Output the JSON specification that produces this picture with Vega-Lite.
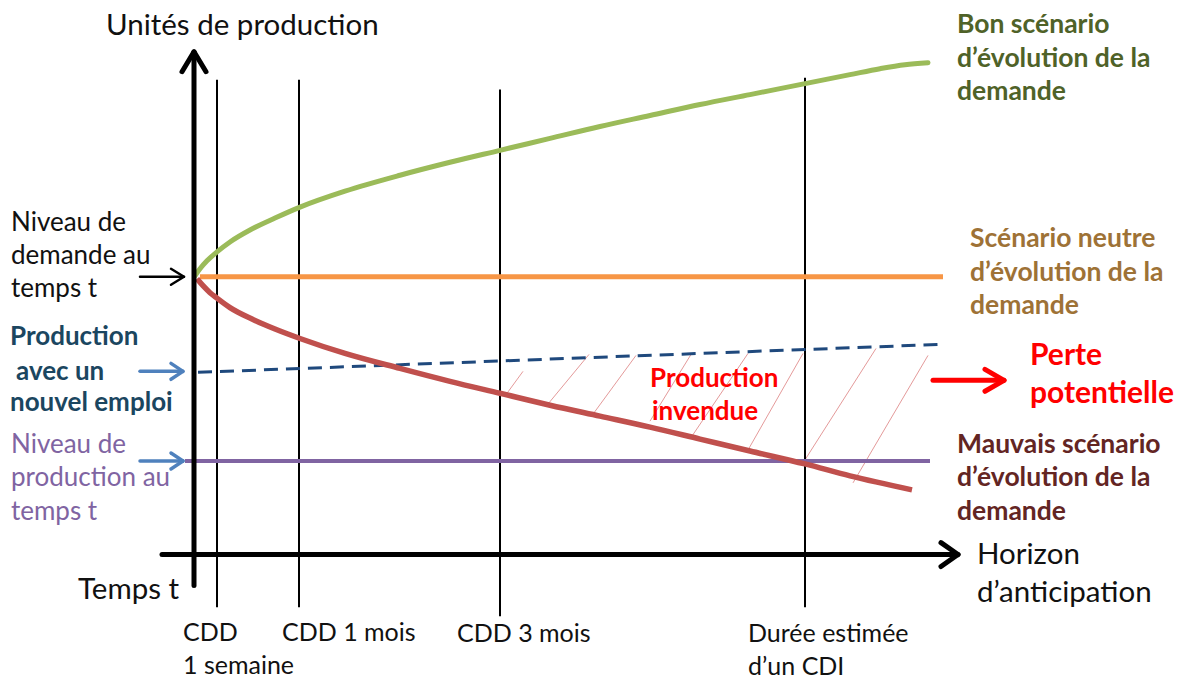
{
  "$schema": "https://vega.github.io/schema/vega-lite/v6.json",
  "width": 1181,
  "height": 680,
  "autosize": {"type": "fit", "contains": "padding"},
  "padding": 0,
  "background": "white",
  "config": {"view": {"stroke": null}},
  "datasets": {
    "segments": [
      {"kind": "hatch", "x": 507, "y": 395, "x2": 523, "y2": 373},
      {"kind": "hatch", "x": 547, "y": 407, "x2": 589, "y2": 356},
      {"kind": "hatch", "x": 593, "y": 416, "x2": 636, "y2": 357},
      {"kind": "hatch", "x": 650, "y": 423, "x2": 691, "y2": 356},
      {"kind": "hatch", "x": 692, "y": 438, "x2": 748, "y2": 355},
      {"kind": "hatch", "x": 748, "y": 452, "x2": 803, "y2": 355},
      {"kind": "hatch", "x": 803, "y": 465, "x2": 876, "y2": 350},
      {"kind": "hatch", "x": 853, "y": 485, "x2": 928, "y2": 357},
      {"kind": "vline", "x": 217, "y": 80, "x2": 217, "y2": 610},
      {"kind": "vline", "x": 299, "y": 80, "x2": 299, "y2": 610},
      {"kind": "vline", "x": 500, "y": 90, "x2": 500, "y2": 619},
      {"kind": "vline", "x": 805, "y": 78, "x2": 805, "y2": 610},
      {"kind": "dashed", "x": 198, "y": 374, "x2": 938, "y2": 346},
      {"kind": "purple", "x": 185, "y": 463, "x2": 930, "y2": 463},
      {"kind": "neutral", "x": 200, "y": 278, "x2": 943, "y2": 278},
      {"kind": "axis", "x": 194, "y": 588, "x2": 194, "y2": 53},
      {"kind": "axis", "x": 162, "y": 557, "x2": 957, "y2": 557},
      {"kind": "axis", "x": 194, "y": 52, "x2": 182, "y2": 72},
      {"kind": "axis", "x": 194, "y": 52, "x2": 206, "y2": 72},
      {"kind": "axis", "x": 958, "y": 557, "x2": 941, "y2": 545},
      {"kind": "axis", "x": 958, "y": 557, "x2": 941, "y2": 569},
      {"kind": "arrowBlack", "x": 140, "y": 278, "x2": 183, "y2": 278},
      {"kind": "arrowBlack", "x": 184, "y": 278, "x2": 171, "y2": 270},
      {"kind": "arrowBlack", "x": 184, "y": 278, "x2": 171, "y2": 286},
      {"kind": "arrowBlue", "x": 140, "y": 373, "x2": 182, "y2": 373},
      {"kind": "arrowBlue", "x": 183, "y": 373, "x2": 171, "y2": 365},
      {"kind": "arrowBlue", "x": 183, "y": 373, "x2": 171, "y2": 381},
      {"kind": "arrowBlue", "x": 140, "y": 463, "x2": 182, "y2": 463},
      {"kind": "arrowBlue", "x": 183, "y": 463, "x2": 171, "y2": 455},
      {"kind": "arrowBlue", "x": 183, "y": 463, "x2": 171, "y2": 471},
      {"kind": "arrowRed", "x": 933, "y": 382, "x2": 1002, "y2": 382},
      {"kind": "arrowRed", "x": 1004, "y": 382, "x2": 985, "y2": 371},
      {"kind": "arrowRed", "x": 1004, "y": 382, "x2": 985, "y2": 393}
    ],
    "curves": [
      {"s": "bon", "x": 195, "y": 277}, {"s": "bon", "x": 200, "y": 270}, {"s": "bon", "x": 207, "y": 262},
      {"s": "bon", "x": 217, "y": 253}, {"s": "bon", "x": 230, "y": 243}, {"s": "bon", "x": 250, "y": 231},
      {"s": "bon", "x": 275, "y": 219}, {"s": "bon", "x": 300, "y": 208}, {"s": "bon", "x": 345, "y": 192},
      {"s": "bon", "x": 400, "y": 176}, {"s": "bon", "x": 450, "y": 163}, {"s": "bon", "x": 500, "y": 151},
      {"s": "bon", "x": 550, "y": 139}, {"s": "bon", "x": 600, "y": 127}, {"s": "bon", "x": 650, "y": 116},
      {"s": "bon", "x": 700, "y": 105}, {"s": "bon", "x": 750, "y": 95}, {"s": "bon", "x": 805, "y": 84},
      {"s": "bon", "x": 850, "y": 75}, {"s": "bon", "x": 880, "y": 69}, {"s": "bon", "x": 905, "y": 65},
      {"s": "bon", "x": 928, "y": 63},
      {"s": "mauvais", "x": 197, "y": 280}, {"s": "mauvais", "x": 203, "y": 287}, {"s": "mauvais", "x": 210, "y": 294},
      {"s": "mauvais", "x": 217, "y": 299.5}, {"s": "mauvais", "x": 230, "y": 309}, {"s": "mauvais", "x": 252, "y": 320.5},
      {"s": "mauvais", "x": 275, "y": 330.5}, {"s": "mauvais", "x": 300, "y": 340}, {"s": "mauvais", "x": 345, "y": 355},
      {"s": "mauvais", "x": 400, "y": 370}, {"s": "mauvais", "x": 450, "y": 383}, {"s": "mauvais", "x": 500, "y": 395},
      {"s": "mauvais", "x": 550, "y": 407}, {"s": "mauvais", "x": 600, "y": 418}, {"s": "mauvais", "x": 650, "y": 429},
      {"s": "mauvais", "x": 700, "y": 441}, {"s": "mauvais", "x": 750, "y": 453}, {"s": "mauvais", "x": 805, "y": 466},
      {"s": "mauvais", "x": 850, "y": 478}, {"s": "mauvais", "x": 912, "y": 492}
    ],
    "labels": [
      {"g": "title", "x": 106, "y": 35, "t": "Unités de production"},
      {"g": "title", "x": 78, "y": 602, "t": "Temps t"},
      {"g": "title", "x": 977, "y": 567, "t": "Horizon"},
      {"g": "title", "x": 977, "y": 605, "t": "d’anticipation"},
      {"g": "plain", "x": 11, "y": 232, "t": "Niveau de"},
      {"g": "plain", "x": 11, "y": 265, "t": "demande au"},
      {"g": "plain", "x": 11, "y": 298, "t": "temps t"},
      {"g": "small", "x": 183, "y": 644, "t": "CDD"},
      {"g": "small", "x": 183, "y": 677, "t": "1 semaine"},
      {"g": "small", "x": 282, "y": 644, "t": "CDD 1 mois"},
      {"g": "small", "x": 457, "y": 645, "t": "CDD 3 mois"},
      {"g": "small", "x": 748, "y": 645, "t": "Durée estimée"},
      {"g": "small", "x": 748, "y": 678, "t": "d’un CDI"},
      {"g": "purple", "x": 11, "y": 455, "t": "Niveau de"},
      {"g": "purple", "x": 11, "y": 488, "t": "production au"},
      {"g": "purple", "x": 11, "y": 522, "t": "temps t"},
      {"g": "teal", "x": 10, "y": 347, "t": "Production"},
      {"g": "teal", "x": 16, "y": 382, "t": "avec un"},
      {"g": "teal", "x": 10, "y": 413, "t": "nouvel emploi"},
      {"g": "green", "x": 957, "y": 33, "t": "Bon scénario"},
      {"g": "green", "x": 957, "y": 67, "t": "d’évolution de la"},
      {"g": "green", "x": 957, "y": 100, "t": "demande"},
      {"g": "orange", "x": 970, "y": 248, "t": "Scénario neutre"},
      {"g": "orange", "x": 970, "y": 282, "t": "d’évolution de la"},
      {"g": "orange", "x": 970, "y": 315, "t": "demande"},
      {"g": "maroon", "x": 957, "y": 455, "t": "Mauvais scénario"},
      {"g": "maroon", "x": 957, "y": 488, "t": "d’évolution de la"},
      {"g": "maroon", "x": 957, "y": 522, "t": "demande"},
      {"g": "perte", "x": 1030, "y": 367, "t": "Perte"},
      {"g": "perte", "x": 1030, "y": 405, "t": "potentielle"},
      {"g": "invendue", "x": 650, "y": 389, "t": "Production"},
      {"g": "invendue", "x": 652, "y": 422, "t": "invendue"}
    ]
  },
  "encoding": {
    "x": {"field": "x", "type": "quantitative", "scale": {"domain": [0, 1181], "nice": false, "zero": false}, "axis": null},
    "y": {"field": "y", "type": "quantitative", "scale": {"domain": [0, 680], "nice": false, "zero": false, "reverse": true}, "axis": null}
  },
  "layer": [
    {"data": {"name": "segments"}, "transform": [{"filter": "datum.kind === 'hatch'"}],
     "mark": {"type": "rule", "color": "#e49a9a", "strokeWidth": 1},
     "encoding": {"x2": {"field": "x2"}, "y2": {"field": "y2"}}},
    {"data": {"name": "segments"}, "transform": [{"filter": "datum.kind === 'vline'"}],
     "mark": {"type": "rule", "color": "#000000", "strokeWidth": 2},
     "encoding": {"x2": {"field": "x2"}, "y2": {"field": "y2"}}},
    {"data": {"name": "segments"}, "transform": [{"filter": "datum.kind === 'dashed'"}],
     "mark": {"type": "rule", "color": "#1f497d", "strokeWidth": 3, "strokeDash": [14, 8]},
     "encoding": {"x2": {"field": "x2"}, "y2": {"field": "y2"}}},
    {"data": {"name": "segments"}, "transform": [{"filter": "datum.kind === 'purple'"}],
     "mark": {"type": "rule", "color": "#8064a2", "strokeWidth": 4},
     "encoding": {"x2": {"field": "x2"}, "y2": {"field": "y2"}}},
    {"data": {"name": "segments"}, "transform": [{"filter": "datum.kind === 'neutral'"}],
     "mark": {"type": "rule", "color": "#f79646", "strokeWidth": 5},
     "encoding": {"x2": {"field": "x2"}, "y2": {"field": "y2"}}},
    {"data": {"name": "curves"}, "transform": [{"filter": "datum.s === 'bon'"}],
     "mark": {"type": "line", "color": "#9bbb59", "strokeWidth": 5, "interpolate": "monotone", "strokeCap": "round"},
     "encoding": {"order": {"field": "x", "type": "quantitative"}}},
    {"data": {"name": "curves"}, "transform": [{"filter": "datum.s === 'mauvais'"}],
     "mark": {"type": "line", "color": "#c0504d", "strokeWidth": 5.5, "interpolate": "monotone"},
     "encoding": {"order": {"field": "x", "type": "quantitative"}}},
    {"data": {"name": "segments"}, "transform": [{"filter": "datum.kind === 'axis'"}],
     "mark": {"type": "rule", "color": "#000000", "strokeWidth": 5, "strokeCap": "round"},
     "encoding": {"x2": {"field": "x2"}, "y2": {"field": "y2"}}},
    {"data": {"name": "segments"}, "transform": [{"filter": "datum.kind === 'arrowBlack'"}],
     "mark": {"type": "rule", "color": "#000000", "strokeWidth": 2.5, "strokeCap": "round"},
     "encoding": {"x2": {"field": "x2"}, "y2": {"field": "y2"}}},
    {"data": {"name": "segments"}, "transform": [{"filter": "datum.kind === 'arrowBlue'"}],
     "mark": {"type": "rule", "color": "#4f81bd", "strokeWidth": 3.5, "strokeCap": "round"},
     "encoding": {"x2": {"field": "x2"}, "y2": {"field": "y2"}}},
    {"data": {"name": "segments"}, "transform": [{"filter": "datum.kind === 'arrowRed'"}],
     "mark": {"type": "rule", "color": "#ff0000", "strokeWidth": 5, "strokeCap": "round"},
     "encoding": {"x2": {"field": "x2"}, "y2": {"field": "y2"}}},
    {"data": {"name": "labels"}, "transform": [{"filter": "datum.g === 'title'"}],
     "mark": {"type": "text", "align": "left", "baseline": "alphabetic", "font": "Lato", "fontSize": 29.5, "color": "#111111"},
     "encoding": {"text": {"field": "t"}}},
    {"data": {"name": "labels"}, "transform": [{"filter": "datum.g === 'plain'"}],
     "mark": {"type": "text", "align": "left", "baseline": "alphabetic", "font": "Lato", "fontSize": 26, "color": "#111111"},
     "encoding": {"text": {"field": "t"}}},
    {"data": {"name": "labels"}, "transform": [{"filter": "datum.g === 'small'"}],
     "mark": {"type": "text", "align": "left", "baseline": "alphabetic", "font": "Lato", "fontSize": 25, "color": "#111111"},
     "encoding": {"text": {"field": "t"}}},
    {"data": {"name": "labels"}, "transform": [{"filter": "datum.g === 'purple'"}],
     "mark": {"type": "text", "align": "left", "baseline": "alphabetic", "font": "Lato", "fontSize": 26, "color": "#8064a2"},
     "encoding": {"text": {"field": "t"}}},
    {"data": {"name": "labels"}, "transform": [{"filter": "datum.g === 'teal'"}],
     "mark": {"type": "text", "align": "left", "baseline": "alphabetic", "font": "Lato", "fontWeight": "bold", "fontSize": 26, "color": "#1b4660"},
     "encoding": {"text": {"field": "t"}}},
    {"data": {"name": "labels"}, "transform": [{"filter": "datum.g === 'green'"}],
     "mark": {"type": "text", "align": "left", "baseline": "alphabetic", "font": "Lato", "fontWeight": "bold", "fontSize": 26.5, "color": "#4f6228"},
     "encoding": {"text": {"field": "t"}}},
    {"data": {"name": "labels"}, "transform": [{"filter": "datum.g === 'orange'"}],
     "mark": {"type": "text", "align": "left", "baseline": "alphabetic", "font": "Lato", "fontWeight": "bold", "fontSize": 26.5, "color": "#9e7236"},
     "encoding": {"text": {"field": "t"}}},
    {"data": {"name": "labels"}, "transform": [{"filter": "datum.g === 'maroon'"}],
     "mark": {"type": "text", "align": "left", "baseline": "alphabetic", "font": "Lato", "fontWeight": "bold", "fontSize": 26.5, "color": "#632523"},
     "encoding": {"text": {"field": "t"}}},
    {"data": {"name": "labels"}, "transform": [{"filter": "datum.g === 'perte'"}],
     "mark": {"type": "text", "align": "left", "baseline": "alphabetic", "font": "Lato", "fontWeight": "bold", "fontSize": 30, "color": "#ff0000"},
     "encoding": {"text": {"field": "t"}}},
    {"data": {"name": "labels"}, "transform": [{"filter": "datum.g === 'invendue'"}],
     "mark": {"type": "text", "align": "left", "baseline": "alphabetic", "font": "Lato", "fontWeight": "bold", "fontSize": 26, "color": "#ff0000"},
     "encoding": {"text": {"field": "t"}}}
  ]
}
